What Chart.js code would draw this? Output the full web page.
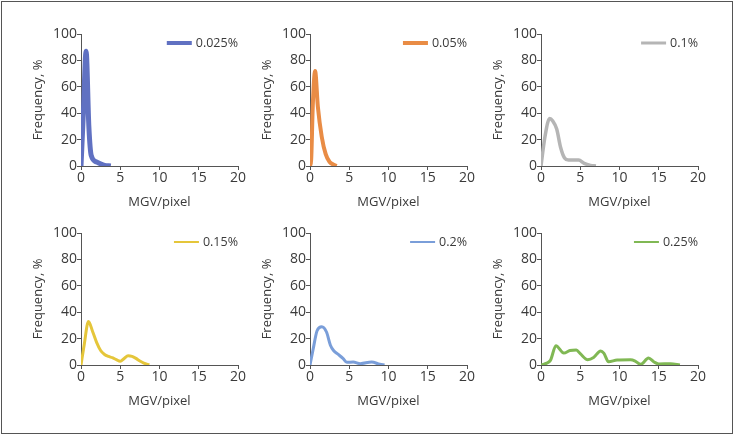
<!DOCTYPE html>
<html>
<head>
<meta charset="utf-8">
<script src="https://cdn.jsdelivr.net/npm/chart.js@4.4.0/dist/chart.umd.min.js"></script>
<style>
  body { margin: 0; background: #fff; }
  #frame { position: absolute; left: 1px; top: 1px; width: 730px; height: 431px; border: 1px solid #555; }
  .panel { position: absolute; width: 230px; height: 190px; }
</style>
</head>
<body>
<div id="frame"></div>
<div class="panel" style="left:20px;top:20px"><canvas id="c1"></canvas></div>
<div class="panel" style="left:249px;top:20px"><canvas id="c2"></canvas></div>
<div class="panel" style="left:480px;top:20px"><canvas id="c3"></canvas></div>
<div class="panel" style="left:20px;top:219px"><canvas id="c4"></canvas></div>
<div class="panel" style="left:249px;top:219px"><canvas id="c5"></canvas></div>
<div class="panel" style="left:480px;top:219px"><canvas id="c6"></canvas></div>
<script>
// concentration labels
const labels = ['0.025%', '0.05%', '0.1%', '0.15%', '0.2%', '0.25%'];
const xTicks = [0, 5, 10, 15, 20];
const yTicks = [0, 20, 40, 60, 80, 100];

// MGV/pixel (x) and frequency % (y)
const x1 = [0, 0.3, 0.65, 1.0, 1.3, 2.0, 3.0, 3.8];
const y1 = [0, 40, 87, 30, 8, 3, 0.5, 0];

const x2 = [0, 0.15, 0.35, 0.65, 1.0, 1.5, 2.0, 2.5, 3.0, 3.4];
const y2 = [0, 5, 45, 72, 45, 22, 9, 3, 1, 0];

const x3 = [0, 0.5, 1.1, 1.5, 2.0, 2.5, 3.0, 3.5, 4.0, 4.8, 5.5, 6.3, 7.0];
const y3 = [0, 22, 36, 34, 28, 14, 6, 4.5, 4.5, 4.5, 2, 0.5, 0];

const x4 = [0, 0.4, 0.95, 1.5, 2.0, 2.5, 3.0, 3.5, 4.0, 4.5, 5.0, 5.5, 6.0, 6.5, 7.0, 7.5, 8.0, 8.7];
const y4 = [0, 15, 33, 25, 17, 11, 8, 6.5, 5.5, 4, 2.8, 5, 7, 6.5, 5, 3, 1.5, 0];

const x5 = [0, 0.4, 0.9, 1.5, 2.1, 2.6, 3.0, 3.6, 4.2, 4.7, 5.5, 6.4, 7.85, 8.9, 9.5];
const y5 = [0, 12, 26, 29, 25, 15, 11, 8, 5, 2, 2.3, 1, 2.3, 0.5, 0];

const x6 = [0, 0.55, 1.2, 1.9, 2.9, 3.7, 4.5, 5.0, 5.95, 6.7, 7.6, 8.0, 8.6, 9.7, 11.4, 12.0, 12.7, 13.7, 14.4, 15.0, 16.5, 17.7];
const y6 = [0, 1, 3.5, 14.5, 9, 11, 11.4, 8.6, 4, 5.6, 10.7, 9, 2.5, 3.8, 4, 3, 0.5, 5.3, 2.3, 0.8, 1, 0];

const xs = [x1, x2, x3, x4, x5, x6];
const ys = [y1, y2, y3, y4, y5, y6];
const colors = ['#6071c2', '#e98c45', '#b5b5b5', '#e5c63a', '#7a9ed9', '#80b854'];
const widths = [5, 4, 3.5, 3, 3, 3];
const legendWidths = [4, 4, 3, 2, 2, 2];

const FONT = "'Open Sans', sans-serif";
const textColor = '#3a3a3a';
const axisColor = '#555';

// legend drawn inside the plot, top right
const insideLegend = {
    id: 'insideLegend',
    afterDraw(chart) {
        const ctx = chart.ctx;
        const area = chart.chartArea;
        const ds = chart.data.datasets[0];
        ctx.save();
        ctx.font = '12.5px ' + FONT;
        ctx.fillStyle = textColor;
        ctx.textAlign = 'right';
        ctx.textBaseline = 'middle';
        const y = area.top + 9;
        const w = ctx.measureText(ds.label).width;
        ctx.fillText(ds.label, area.right, y);
        const x2 = area.right - w - 4;
        ctx.strokeStyle = ds.borderColor;
        ctx.lineWidth = chart.options.legendLineWidth;
        ctx.beginPath();
        ctx.moveTo(x2 - 25, y);
        ctx.lineTo(x2, y);
        ctx.stroke();
        ctx.restore();
    }
};

function makeChart(i) {
    const points = xs[i].map((x, k) => ({ x: x, y: ys[i][k] }));
    new Chart(document.getElementById('c' + (i + 1)), {
        type: 'scatter',
        data: {
            datasets: [{
                label: labels[i],
                data: points,
                showLine: true,
                borderColor: colors[i],
                borderWidth: widths[i],
                pointRadius: 0,
                cubicInterpolationMode: 'monotone',
                fill: false
            }]
        },
        options: {
            responsive: true,
            maintainAspectRatio: false,
            animation: false,
            legendLineWidth: legendWidths[i],
            layout: { padding: { top: 14, right: 12, left: 0, bottom: 0 } },
            plugins: { legend: { display: false }, tooltip: { enabled: false } },
            scales: {
                x: {
                    type: 'linear',
                    min: 0,
                    max: 20,
                    afterFit: s => { s.height = 44; },
                    afterBuildTicks: s => { s.ticks = xTicks.map(v => ({ value: v })); },
                    grid: { drawOnChartArea: false, tickLength: 4, color: axisColor },
                    border: { color: axisColor, width: 1 },
                    ticks: { color: textColor, padding: 0, font: { family: FONT, size: 14 } },
                    title: { display: true, text: 'MGV/pixel', color: textColor, padding: 0, font: { family: FONT, size: 13 } }
                },
                y: {
                    min: 0,
                    max: 100,
                    afterFit: s => { s.width = 61; },
                    afterBuildTicks: s => { s.ticks = yTicks.map(v => ({ value: v })); },
                    grid: { drawOnChartArea: false, tickLength: 4, color: axisColor },
                    border: { color: axisColor, width: 1 },
                    ticks: { color: textColor, padding: 0, font: { family: FONT, size: 14 } },
                    title: { display: true, text: 'Frequency, %', color: textColor, padding: { top: 10, bottom: 0 }, font: { family: FONT, size: 13 } }
                }
            }
        },
        plugins: [insideLegend]
    });
}

for (let i = 0; i < 6; i++) {
    makeChart(i);
}
</script>
</body>
</html>
